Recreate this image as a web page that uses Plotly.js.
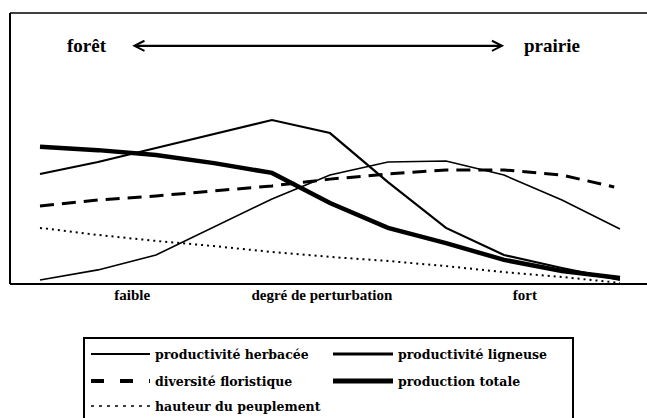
<!DOCTYPE html>
<html><head><meta charset="utf-8">
<script src="https://cdn.plot.ly/plotly-3.0.1.min.js"></script>
<style>html,body{margin:0;padding:0;background:#fff}</style>
</head><body>
<div id="chart" style="width:647px;height:418px"></div>
<script>
// degree of disturbance (arbitrary units, 0 = faible, 10 = fort)
const xLevels = [0,1,2,3,4,5,6,7,8,9,10];
const xDiversite = [0,1,2,3,4,5,6,7,8,9,9.9];
const herbacee  = [0.15,0.52,1.07,2.10,3.14,4.02,4.50,4.54,4.02,3.10,2.03];
const ligneuse  = [4.06,4.50,5.02,5.54,6.05,5.57,3.76,2.07,1.07,0.59,0.15];
const diversite = [2.88,3.10,3.25,3.43,3.62,3.87,4.06,4.21,4.21,4.02,3.58];
const totale    = [5.06,4.94,4.76,4.46,4.10,2.99,2.07,1.51,0.89,0.48,0.22];
const hauteur   = [2.07,1.81,1.59,1.40,1.18,1.00,0.85,0.66,0.44,0.26,0.04];
const seriesNames = ['productivité herbacée','productivité ligneuse','diversité floristique','production totale','hauteur du peuplement'];
const tickPos = [1.59, 4.86, 8.36];
const tickLabels = ['faible','degré de perturbation','fort'];
const gradientEnds = ['forêt','prairie'];

const serif = '"Liberation Serif", "Times New Roman", serif';
const legendFont = '"DejaVu Serif", serif';
const styles = [
  {color:'#000', width:1.6},
  {color:'#000', width:2.2},
  {color:'#000', width:3, dash:'14px,8px'},
  {color:'#000', width:4.5},
  {color:'#000', width:2, dash:'2px,4px'}
];
const legendStyles = [
  {color:'#000', width:2},
  {color:'#000', width:3},
  {color:'#000', width:4, dash:'13px,16px'},
  {color:'#000', width:5},
  {color:'#000', width:1.5, dash:'3px,5px'}
];
const xs = [xLevels, xLevels, xDiversite, xLevels, xLevels];
const ys = [herbacee, ligneuse, diversite, totale, hauteur];
const traces = ys.map((y,i)=>({x:xs[i], y:y, name:seriesNames[i], mode:'lines', line:styles[i], showlegend:false}));

// pixel -> paper helpers for decorations (plot area: x 10..647, y 13..284)
const L=10, R=0, T=13, B=134, W=647, H=418;
const pw = W-L-R, ph = H-T-B;
const px = p => (p-L)/pw;
const py = p => (H-B-p)/ph;

const shapes = [
  {type:'line', xref:'paper', yref:'paper', x0:0, x1:0, y0:0, y1:1, line:{color:'#000', width:2}},
  {type:'line', xref:'paper', yref:'paper', x0:0, x1:1.01, y0:1, y1:1, line:{color:'#000', width:1.5}},
  {type:'line', xref:'paper', yref:'paper', x0:0, x1:1.01, y0:0, y1:0, line:{color:'#000', width:2}},
  // legend box (bottom cut off by the image edge)
  {type:'path', xref:'paper', yref:'paper', path:`M ${px(84)} ${py(425)} L ${px(84)} ${py(338)} L ${px(573)} ${py(338)} L ${px(573)} ${py(425)}`, line:{color:'#000', width:2}}
];
const annotations = [
  {xref:'x', yref:'y', x:0.81, y:8.79, text:gradientEnds[0], showarrow:false,
    font:{family:serif, size:19, weight:'bold', color:'#000'}},
  {xref:'x', yref:'y', x:8.83, y:8.79, text:gradientEnds[1], showarrow:false,
    font:{family:serif, size:19, weight:'bold', color:'#000'}},
  {xref:'x', yref:'y', axref:'x', ayref:'y', x:1.59, y:8.79, ax:8.03, ay:8.79, text:'',
    showarrow:true, arrowside:'end+start', arrowhead:5, startarrowhead:5,
    arrowsize:0.9, startarrowsize:0.9, arrowwidth:2.2, arrowcolor:'#000'}
];
// legend entries: two columns, row-major
const colLine = [[91,150],[333,393]];
const colText = [153, 396];
const rowY = [354, 381, 406];
seriesNames.forEach((n,i)=>{
  const c = i%2, r = Math.floor(i/2);
  shapes.push({type:'line', xref:'paper', yref:'paper', x0:px(colLine[c][0]), x1:px(colLine[c][1]),
    y0:py(rowY[r]), y1:py(rowY[r]), line:legendStyles[i]});
  annotations.push({xref:'paper', yref:'paper', x:px(colText[c]), y:py(rowY[r]), xanchor:'left', yanchor:'middle',
    text:n, showarrow:false, font:{family:legendFont, size:12.5, weight:'bold', color:'#000'}});
});

const layout = {
  width:W, height:H,
  margin:{l:L, r:R, t:T, b:B},
  paper_bgcolor:'#fff', plot_bgcolor:'#fff',
  font:{family:serif, color:'#000'},
  showlegend:false,
  xaxis:{range:[-0.517,10.466], showgrid:false, zeroline:false, showline:false,
    tickvals:tickPos, ticktext:tickLabels, ticks:'',
    tickfont:{family:serif, size:15, weight:'bold', color:'#000'}},
  yaxis:{range:[0,10], showgrid:false, zeroline:false, showline:false, showticklabels:false, ticks:''},
  shapes:shapes,
  annotations:annotations
};
Plotly.newPlot('chart', traces, layout, {displayModeBar:false, staticPlot:true});
</script>
</body></html>
